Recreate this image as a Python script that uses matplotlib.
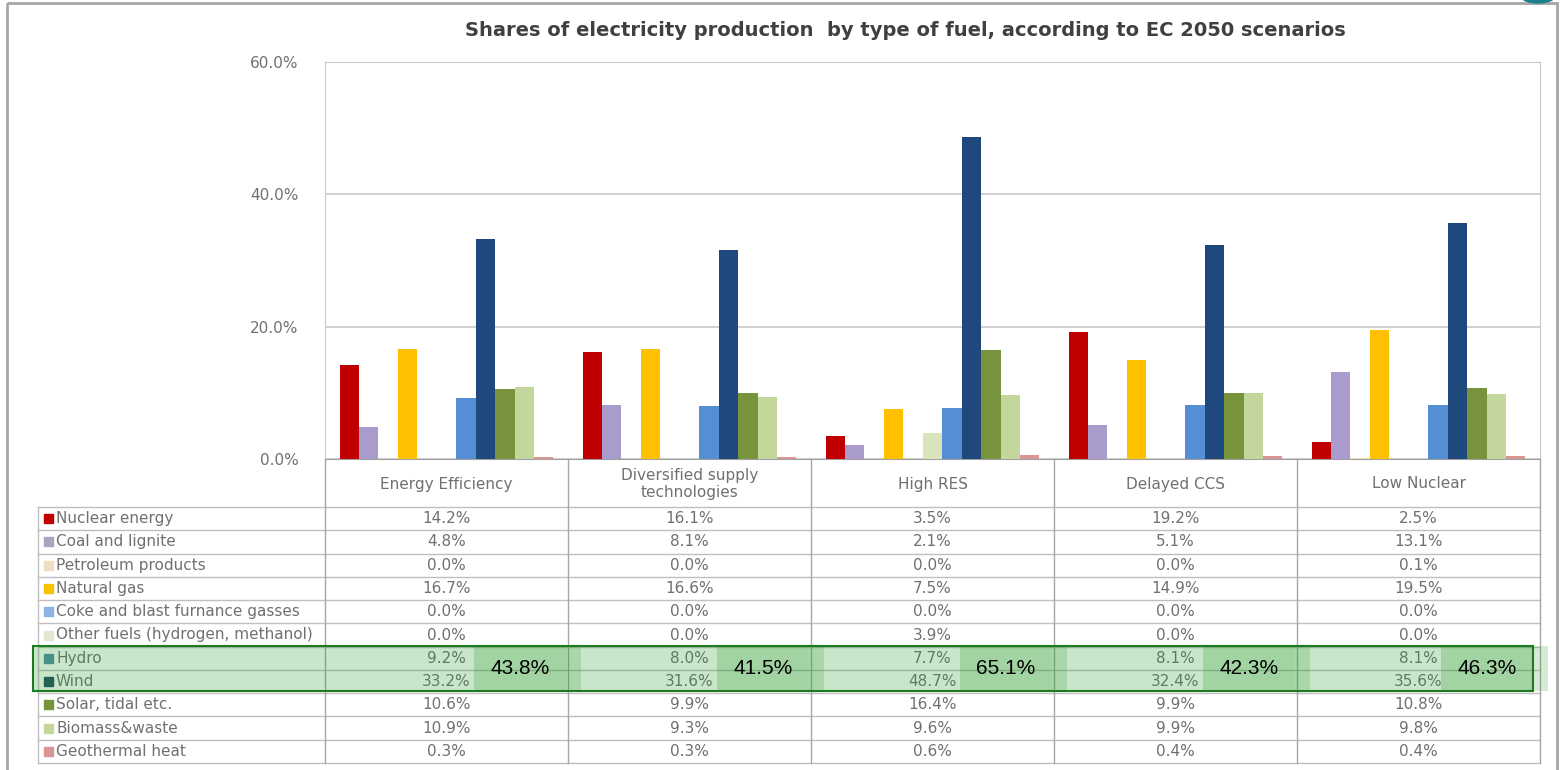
import numpy as np
import matplotlib.pyplot as plt
from matplotlib.patches import Rectangle, Ellipse

scenarios = ["Energy Efficiency", "Diversified supply\ntechnologies", "High RES",
             "Delayed CCS", "Low Nuclear"]
fuels = ["Nuclear energy", "Coal and lignite", "Petroleum products", "Natural gas",
         "Coke and blast furnance gasses", "Other fuels (hydrogen, methanol)",
         "Hydro", "Wind", "Solar, tidal etc.", "Biomass&waste", "Geothermal heat"]

nuclear = [14.2, 16.1, 3.5, 19.2, 2.5]
coal = [4.8, 8.1, 2.1, 5.1, 13.1]
petroleum = [0.0, 0.0, 0.0, 0.0, 0.1]
natural_gas = [16.7, 16.6, 7.5, 14.9, 19.5]
coke = [0.0, 0.0, 0.0, 0.0, 0.0]
other_fuels = [0.0, 0.0, 3.9, 0.0, 0.0]
hydro = [9.2, 8.0, 7.7, 8.1, 8.1]
wind = [33.2, 31.6, 48.7, 32.4, 35.6]
solar = [10.6, 9.9, 16.4, 9.9, 10.8]
biomass = [10.9, 9.3, 9.6, 9.9, 9.8]
geothermal = [0.3, 0.3, 0.6, 0.4, 0.4]
hydro_wind_share = [43.8, 41.5, 65.1, 42.3, 46.3]

series = [nuclear, coal, petroleum, natural_gas, coke, other_fuels,
          hydro, wind, solar, biomass, geothermal]
colors = ["#C00000", "#A99BCB", "#EEDFC4", "#FFC000", "#8DB4E2", "#D8E4BC",
          "#558ED5", "#1F497D", "#77933C", "#C3D69B", "#D99694"]
key_colors = ["#C00000", "#A6A6C0", "#EEDFC4", "#F5C400", "#8DB4E2", "#E0E8D0",
              "#4F8FA8", "#1F4E60", "#77933C", "#C3D69B", "#D99694"]

W, H = 1563, 770
fig = plt.figure(figsize=(W / 100, H / 100), dpi=100)

# bar chart area (pixel layout of the screenshot)
left, right, top, base = 325, 1540, 62, 459
ax = fig.add_axes([left / W, 1 - base / H, (right - left) / W, (base - top) / H])
n = len(series)
bw = 0.88 / n
x = np.arange(len(scenarios))
for j, (vals, c) in enumerate(zip(series, colors)):
    ax.bar(x + (j - (n - 1) / 2) * bw, np.array(vals) / 100, width=bw, color=c, zorder=3)
ax.set_xlim(-0.5, len(scenarios) - 0.5)
ax.set_ylim(0, 0.6)
ax.set_yticks([0, 0.2, 0.4, 0.6])
ax.set_yticklabels([f"{t * 100:.1f}%" for t in [0, 0.2, 0.4, 0.6]])
ax.set_xticks([])
ax.tick_params(axis="y", length=0, pad=19, labelsize=11, labelcolor="#707070")
ax.grid(axis="y", color="#C8C8C8", lw=1.2, zorder=0)
for s in ax.spines.values():
    s.set_color("#C8C8C8")
ax.spines["bottom"].set_color("#A0A0A0")

fig.text(905 / W, 1 - 30 / H,
         "Shares of electricity production  by type of fuel, according to EC 2050 scenarios",
         ha="center", va="center", fontsize=14, fontweight="bold", color="#404040")

# overlay in pixel coordinates for the data table
ov = fig.add_axes([0, 0, 1, 1])
ov.set_xlim(0, W)
ov.set_ylim(H, 0)
ov.axis("off")

edges = np.linspace(left, right, len(scenarios) + 1)
centers = (edges[:-1] + edges[1:]) / 2
head_bot, tab_bot, lab_left = 507, 763, 38
row_h = (tab_bot - head_bot) / len(fuels)
line_c = "#BFBFBF"
txt_c = "#707070"

for k in range(len(fuels) + 1):
    ov.plot([lab_left, right], [head_bot + k * row_h] * 2, color=line_c, lw=1)
for e in edges:
    ov.plot([e, e], [base, tab_bot], color="#A6A6A6", lw=1)
ov.plot([lab_left, lab_left], [head_bot, tab_bot], color=line_c, lw=1)

for c, name in zip(centers, scenarios):
    ov.text(c, (base + head_bot) / 2 + 1, name, ha="center", va="center",
            fontsize=11, color=txt_c, linespacing=1.15)

for i, (name, vals) in enumerate(zip(fuels, series)):
    yc = head_bot + (i + 0.5) * row_h
    ov.add_patch(Rectangle((44, yc - 4.5), 9, 9, color=key_colors[i]))
    ov.text(56, yc, name, ha="left", va="center", fontsize=11, color=txt_c)
    for c, v in zip(centers, vals):
        ov.text(c, yc, f"{v:.1f}%", ha="center", va="center", fontsize=11, color=txt_c)

# green highlight over Hydro + Wind
g_left, g_right = 33, 1533
gy0 = head_bot + 6 * row_h - 1
gy1 = head_bot + 8 * row_h - 2
ov.add_patch(Rectangle((g_left, gy0), g_right - g_left, gy1 - gy0, facecolor="#2E9E2E",
                       alpha=0.25, edgecolor="none", zorder=5))
ov.add_patch(Rectangle((g_left, gy0), g_right - g_left, gy1 - gy0, facecolor="none",
                       edgecolor="#1E7A1E", lw=1.5, zorder=7))
for e, share in zip(edges[1:], hydro_wind_share):
    x1 = min(e - 2, g_right)
    x0 = x1 - 92
    ov.add_patch(Rectangle((x0, gy0), x1 - x0, gy1 - gy0, facecolor="#2E9E2E",
                           alpha=0.25, edgecolor="none", zorder=6))
    ov.add_patch(Rectangle((x1, gy0), 15, gy1 - gy0, facecolor="#2E9E2E",
                           alpha=0.2, edgecolor="none", zorder=6))
    ov.text((x0 + x1) / 2, (gy0 + gy1) / 2, f"{share:.1f}%", ha="center", va="center",
            fontsize=15, family="Liberation Sans", color="black", zorder=8)

# slide frame and clipped logo edge
ov.add_patch(Rectangle((7, 3), 1550, 780, facecolor="none", edgecolor="#A6A6A6", lw=2))
ov.add_patch(Ellipse((1538, -4), 34, 14, color="#1B7F8E"))

plt.savefig("out.png", dpi=100)
